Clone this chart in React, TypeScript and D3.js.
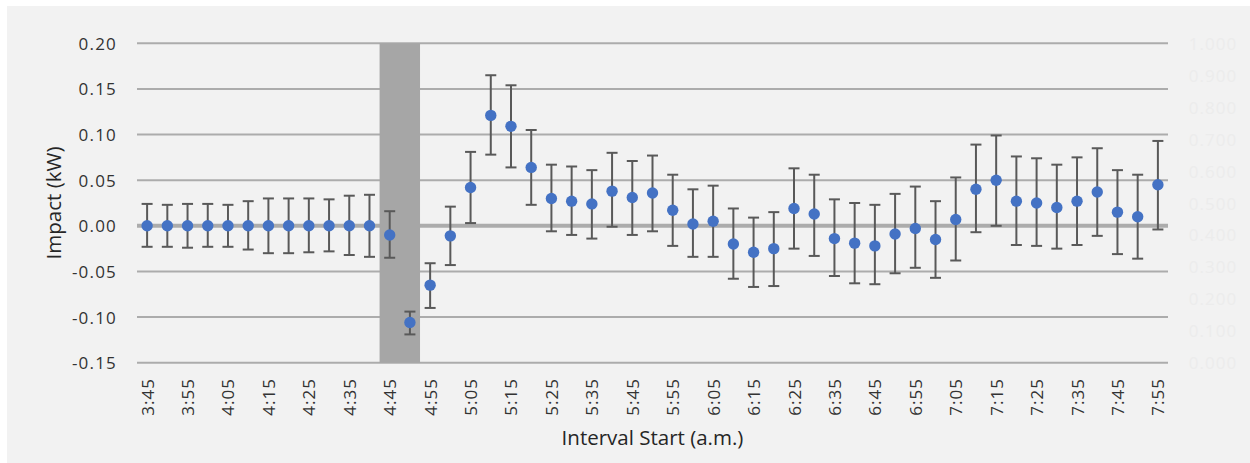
import React from "react";
import * as d3 from "d3";

// interval start times (a.m.), 5-minute steps
const times = [
  "3:45", "3:50", "3:55", "4:00", "4:05", "4:10", "4:15", "4:20", "4:25", "4:30",
  "4:35", "4:40", "4:45", "4:50", "4:55", "5:00", "5:05", "5:10", "5:15", "5:20",
  "5:25", "5:30", "5:35", "5:40", "5:45", "5:50", "5:55", "6:00", "6:05", "6:10",
  "6:15", "6:20", "6:25", "6:30", "6:35", "6:40", "6:45", "6:50", "6:55", "7:00",
  "7:05", "7:10", "7:15", "7:20", "7:25", "7:30", "7:35", "7:40", "7:45", "7:50",
  "7:55",
];

// labelled every other interval
const tickLabels = [
  "3:45", "3:55", "4:05", "4:15", "4:25", "4:35", "4:45", "4:55", "5:05", "5:15",
  "5:25", "5:35", "5:45", "5:55", "6:05", "6:15", "6:25", "6:35", "6:45", "6:55",
  "7:05", "7:15", "7:25", "7:35", "7:45", "7:55",
];

const impact = [
  0, 0, 0, 0, 0, 0, 0, 0, 0, 0, 0, 0,
  -0.010, -0.106, -0.065, -0.011, 0.042, 0.121, 0.109, 0.064, 0.030, 0.027,
  0.024, 0.038, 0.031, 0.036, 0.017, 0.002, 0.005, -0.020, -0.029, -0.025,
  0.019, 0.013, -0.014, -0.019, -0.022, -0.009, -0.003, -0.015, 0.007, 0.040,
  0.050, 0.027, 0.025, 0.020, 0.027, 0.037, 0.015, 0.010, 0.045,
];

const upper = [
  0.024, 0.023, 0.024, 0.024, 0.023, 0.027, 0.030, 0.030, 0.030, 0.029, 0.033, 0.034,
  0.016, -0.094, -0.041, 0.021, 0.081, 0.165, 0.154, 0.105, 0.067, 0.065,
  0.061, 0.080, 0.071, 0.077, 0.056, 0.040, 0.044, 0.019, 0.009, 0.015,
  0.063, 0.056, 0.029, 0.025, 0.023, 0.035, 0.043, 0.027, 0.053, 0.089,
  0.099, 0.076, 0.074, 0.067, 0.075, 0.085, 0.061, 0.056, 0.093,
];

const lower = [
  -0.023, -0.023, -0.024, -0.023, -0.023, -0.026, -0.030, -0.030, -0.029, -0.028, -0.032, -0.034,
  -0.035, -0.119, -0.090, -0.043, 0.003, 0.078, 0.064, 0.023, -0.006, -0.010,
  -0.014, -0.001, -0.010, -0.006, -0.022, -0.034, -0.034, -0.058, -0.067, -0.066,
  -0.025, -0.033, -0.055, -0.063, -0.064, -0.052, -0.046, -0.057, -0.038, -0.007,
  0.000, -0.021, -0.022, -0.025, -0.021, -0.011, -0.031, -0.036, -0.004,
];

// event window shaded grey
const shaded = ["4:45", "4:50"];

const yTicks = [-0.15, -0.1, -0.05, 0, 0.05, 0.1, 0.15, 0.2];
// secondary axis, nearly invisible in the original
const y2Ticks = [0, 0.1, 0.2, 0.3, 0.4, 0.5, 0.6, 0.7, 0.8, 0.9, 1.0];

const W = 1250;
const H = 463;
const font = "'Open Sans', sans-serif";

// hyphen minus like Excel, not d3's unicode minus
const fmt2 = (v: number) => v.toFixed(2);
const fmt3 = (v: number) => v.toFixed(3);

export default function App() {
  const x = d3.scaleBand<string>().domain(times).range([137, 1168]).padding(0);
  const y = d3.scaleLinear().domain([-0.15, 0.2]).range([362.7, 43.3]);
  const y2 = d3.scaleLinear().domain([0, 1]).range([362.7, 43.3]);
  const bw = x.bandwidth();
  const cx = (t: string) => (x(t) ?? 0) + bw / 2;

  const shadeX0 = x(shaded[0]) ?? 0;
  const shadeX1 = (x(shaded[shaded.length - 1]) ?? 0) + bw;

  return (
    <div style={{ position: "absolute", left: 0, top: 0 }}>
      <svg width={W} height={H} style={{ display: "block" }}>
        <rect x={0} y={0} width={W} height={H} fill="#ffffff" />
        <rect x={7} y={6} width={W - 7} height={H - 6} fill="#f2f2f2" />

        {/* grid */}
        <g>
          {yTicks.map((t) => (
            <line
              key={t}
              x1={x.range()[0]}
              x2={x.range()[1]}
              y1={y(t)}
              y2={y(t)}
              stroke="#acacac"
              strokeWidth={t === 0 ? 4 : 2}
            />
          ))}
        </g>

        {/* shaded window */}
        <rect
          x={shadeX0}
          y={y(0.2)}
          width={shadeX1 - shadeX0}
          height={y(-0.15) - y(0.2)}
          fill="#a6a6a6"
        />

        {/* y tick labels */}
        <g fontFamily={font} fontSize={17} fill="#333333" letterSpacing={1.2}>
          {yTicks.map((t) => (
            <text key={t} x={117} y={y(t)} textAnchor="end" dominantBaseline="central">
              {fmt2(t)}
            </text>
          ))}
        </g>

        {/* faint secondary axis labels */}
        <g fontFamily={font} fontSize={17} fill="#ececec" letterSpacing={1}>
          {y2Ticks.map((t) => (
            <text key={t} x={1213} y={y2(t)} textAnchor="middle" dominantBaseline="central">
              {fmt3(t)}
            </text>
          ))}
        </g>

        {/* x tick labels */}
        <g fontFamily={font} fontSize={17} fill="#333333" letterSpacing={1}>
          {tickLabels.map((t) => (
            <text
              key={t}
              transform={`translate(${cx(t)},378) rotate(-90)`}
              textAnchor="end"
              dominantBaseline="central"
            >
              {t}
            </text>
          ))}
        </g>

        {/* error bars */}
        <g stroke="#595959" strokeWidth={2}>
          {times.map((t, i) => (
            <g key={t}>
              <line x1={cx(t)} x2={cx(t)} y1={y(upper[i])} y2={y(lower[i])} />
              <line x1={cx(t) - 5.5} x2={cx(t) + 5.5} y1={y(upper[i])} y2={y(upper[i])} />
              <line x1={cx(t) - 5.5} x2={cx(t) + 5.5} y1={y(lower[i])} y2={y(lower[i])} />
            </g>
          ))}
        </g>

        {/* points */}
        <g fill="#4472c4">
          {times.map((t, i) => (
            <circle key={t} cx={cx(t)} cy={y(impact[i])} r={5.7} />
          ))}
        </g>

        {/* axis titles */}
        <text
          x={(x.range()[0] + x.range()[1]) / 2}
          y={445}
          textAnchor="middle"
          fontFamily={font}
          fontSize={20.5}
          fill="#262626"
        >
          Interval Start (a.m.)
        </text>
        <text
          transform={`translate(61,${(y(0.2) + y(-0.15)) / 2}) rotate(-90)`}
          textAnchor="middle"
          fontFamily={font}
          fontSize={20.5}
          fill="#262626"
        >
          Impact (kW)
        </text>
      </svg>
    </div>
  );
}
